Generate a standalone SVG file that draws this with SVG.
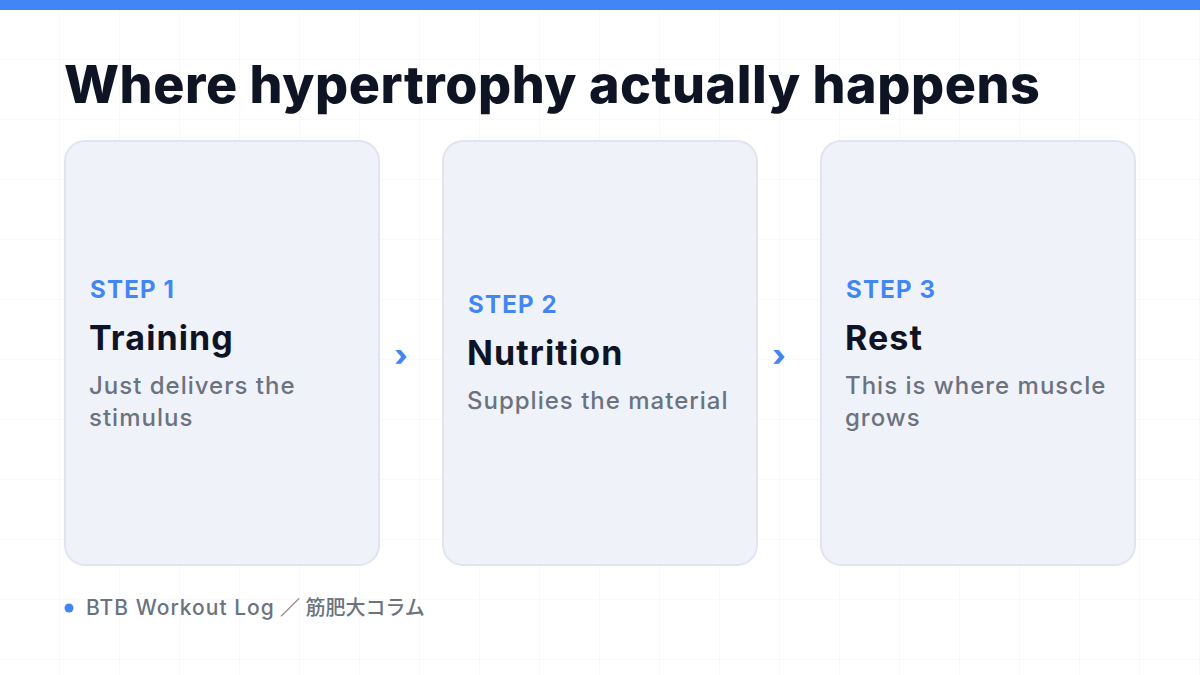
<svg xmlns="http://www.w3.org/2000/svg" width="1200" height="675" viewBox="0 0 1200 675">
  <defs>
    <pattern id="grid" width="60" height="60" patternUnits="userSpaceOnUse">
      <path d="M60 0V60M0 60H60" fill="none" stroke="#f2f3f6" stroke-width="1"/>
    </pattern>
    <style>
      .card { fill: #f0f2fa; stroke: #e1e4ef; stroke-width: 2; }
      .title { font-family: Inter, "Liberation Sans", sans-serif; font-weight: 800; font-size: 52px; letter-spacing: 0.55px; fill: #0f1424; }
      .step { font-family: Inter, "Liberation Sans", sans-serif; font-weight: 700; font-size: 24px; letter-spacing: 1.2px; fill: #4285f4; }
      .head { font-family: Inter, "Liberation Sans", sans-serif; font-weight: 700; font-size: 34px; letter-spacing: 1.1px; fill: #0f1424; }
      .desc { font-family: Inter, "Liberation Sans", sans-serif; font-weight: 500; font-size: 24px; letter-spacing: 1px; fill: #6b7280; }
      .chev { font-family: Inter, "Liberation Sans", sans-serif; font-weight: 800; font-size: 30px; fill: #4285f4; }
      .foot { font-family: Inter, "Noto Sans CJK JP", sans-serif; font-weight: 500; font-size: 20px; fill: #6b7280; }
      .footlat { font-size: 21px; letter-spacing: 1px; }
    </style>
  </defs>
  <rect width="1200" height="675" fill="#ffffff"/>
  <rect width="1200" height="675" fill="url(#grid)"/>
  <rect x="0" y="0" width="1200" height="10" fill="#4285f4"/>

  <text class="title" x="64" y="103">Where hypertrophy actually happens</text>

  <g id="card1">
    <rect class="card" x="65" y="141" width="314" height="424" rx="20"/>
    <text class="step" x="90" y="298">STEP 1</text>
    <text class="head" x="89" y="350">Training</text>
    <text class="desc" x="89" y="394">Just delivers the</text>
    <text class="desc" x="89" y="426">stimulus</text>
  </g>

  <g id="card2">
    <rect class="card" x="443" y="141" width="314" height="424" rx="20"/>
    <text class="step" x="468" y="313">STEP 2</text>
    <text class="head" x="467" y="365">Nutrition</text>
    <text class="desc" x="467" y="409">Supplies the material</text>
  </g>

  <g id="card3">
    <rect class="card" x="821" y="141" width="314" height="424" rx="20"/>
    <text class="step" x="846" y="298">STEP 3</text>
    <text class="head" x="845" y="350">Rest</text>
    <text class="desc" x="845" y="394">This is where muscle</text>
    <text class="desc" x="845" y="426">grows</text>
  </g>

  <g id="connectors">
    <text class="chev" x="401" y="366" text-anchor="middle">›</text>
    <text class="chev" x="779" y="366" text-anchor="middle">›</text>
  </g>

  <g id="footer">
    <circle cx="69" cy="608" r="4.5" fill="#4285f4"/>
    <text class="foot" x="86" y="615"><tspan class="footlat">BTB Workout Log</tspan> ／ 筋肥大コラム</text>
  </g>
</svg>
